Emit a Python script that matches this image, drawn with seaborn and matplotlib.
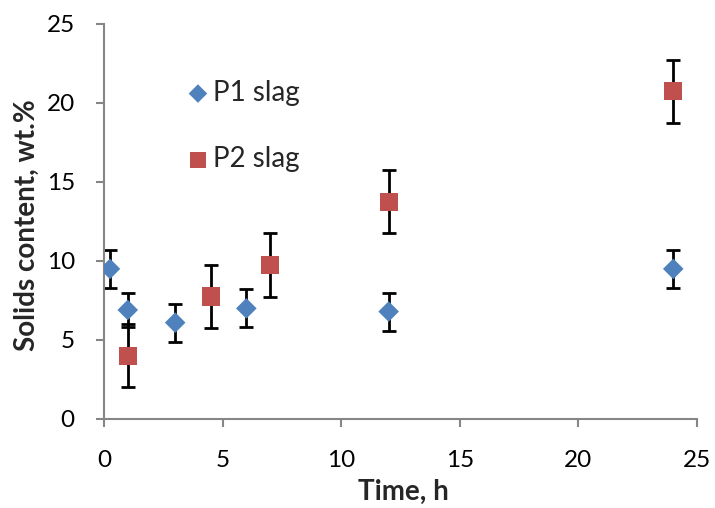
import matplotlib
matplotlib.use("Agg")
import matplotlib.pyplot as plt
import seaborn as sns
import pandas as pd

# Solids content over time for the two slags
p1_time = [0.25, 1, 3, 6, 12, 24]
p1_solids = [9.5, 6.9, 6.1, 7.0, 6.8, 9.5]
p1_err = [1.2, 1.1, 1.2, 1.2, 1.2, 1.2]

p2_time = [1, 4.5, 7, 12, 24]
p2_solids = [4.0, 7.75, 9.75, 13.75, 20.75]
p2_err = [2, 2, 2, 2, 2]

series_names = ["P1 slag", "P2 slag"]
x_ticks = [0, 5, 10, 15, 20, 25]
y_ticks = [0, 5, 10, 15, 20, 25]

df = pd.concat([
    pd.DataFrame({"time": p1_time, "solids": p1_solids, "err": p1_err, "series": series_names[0]}),
    pd.DataFrame({"time": p2_time, "solids": p2_solids, "err": p2_err, "series": series_names[1]}),
], ignore_index=True)

sns.set_theme(style="white")
plt.rcParams["font.family"] = ["Lato", "DejaVu Sans"]

fig = plt.figure(figsize=(7.15, 5.08), dpi=100)
ax = fig.add_axes([0.1455, 0.1752, 0.8293, 0.7776])

palette = {"P1 slag": "#4F81BD", "P2 slag": "#C0504D"}
markers = {"P1 slag": "D", "P2 slag": "s"}
sizes = {"P1 slag": 110, "P2 slag": 170}

# error bars sit underneath the markers
for name in series_names:
    sub = df[df["series"] == name]
    ax.errorbar(sub["time"], sub["solids"], yerr=sub["err"], fmt="none",
                ecolor="black", elinewidth=2.0, capsize=5.2, capthick=2.0, zorder=2)

for name in series_names:
    sub = df[df["series"] == name]
    sns.scatterplot(data=sub, x="time", y="solids", ax=ax, color=palette[name],
                    marker=markers[name], s=sizes[name], edgecolor="none",
                    label=name, zorder=3)

ax.set_xlim(0, 25)
ax.set_ylim(0, 25)
ax.set_xticks(x_ticks)
ax.set_yticks(y_ticks)
ax.tick_params(axis="both", labelsize=17.5, colors="#868686", labelcolor="black",
               direction="out", length=6, width=1.5)
ax.tick_params(axis="x", pad=16, bottom=True)
ax.tick_params(axis="y", pad=15, left=True)

for side in ["top", "right"]:
    ax.spines[side].set_visible(False)
for side in ["left", "bottom"]:
    ax.spines[side].set_color("#868686")
    ax.spines[side].set_linewidth(1.5)

ax.set_xlabel("Time, h", fontsize=20, fontweight="bold")
ax.set_ylabel("Solids content, wt.%", fontsize=20, fontweight="bold")
ax.xaxis.label.set_va("center")
ax.yaxis.label.set_va("center")
ax.xaxis.set_label_coords(0.505, -0.185)
ax.yaxis.set_label_coords(-0.13, 0.49)

ax.legend(loc="center left", bbox_to_anchor=(0.238, 0.752), bbox_transform=fig.transFigure,
          frameon=False, fontsize=20, labelspacing=1.45, handletextpad=0.05,
          handlelength=1.0, borderpad=0, markerscale=0.9)

fig.savefig("out.png", dpi=100)
